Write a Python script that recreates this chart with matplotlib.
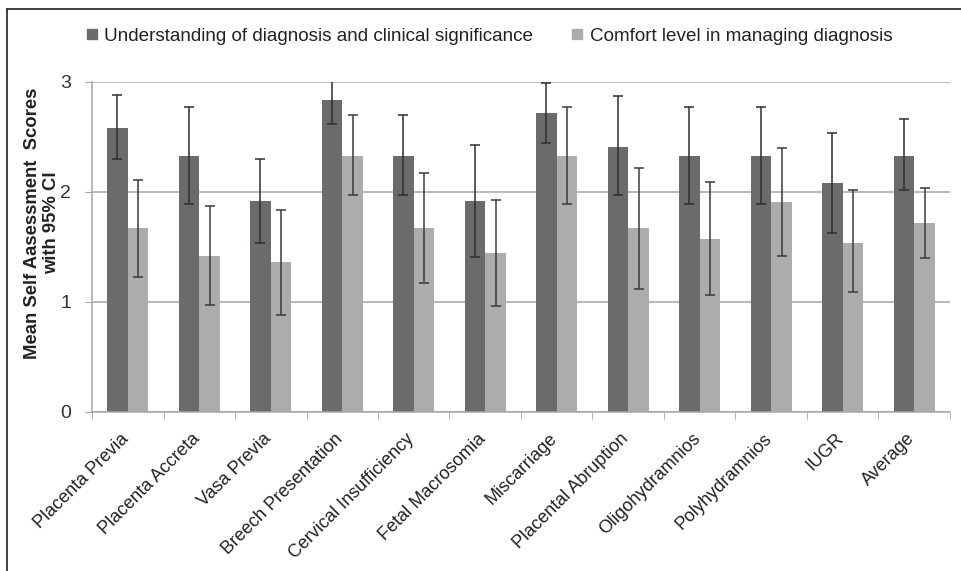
import numpy as np
import matplotlib.pyplot as plt
import matplotlib.transforms as mtransforms
from matplotlib.lines import Line2D

categories = ["Placenta Previa", "Placenta Accreta", "Vasa Previa",
              "Breech Presentation", "Cervical Insufficiency",
              "Fetal Macrosomia", "Miscarriage", "Placental Abruption",
              "Oligohydramnios", "Polyhydramnios", "IUGR", "Average"]

understanding = [2.58, 2.33, 1.92, 2.84, 2.33, 1.92, 2.72, 2.41, 2.33, 2.33, 2.08, 2.33]
under_lo = [2.30, 1.89, 1.54, 2.62, 1.97, 1.41, 2.45, 1.97, 1.89, 1.89, 1.63, 2.02]
under_hi = [2.88, 2.77, 2.30, 3.06, 2.70, 2.43, 2.99, 2.87, 2.77, 2.77, 2.54, 2.66]

comfort = [1.67, 1.42, 1.36, 2.33, 1.67, 1.45, 2.33, 1.67, 1.57, 1.91, 1.54, 1.72]
comf_lo = [1.23, 0.97, 0.88, 1.97, 1.17, 0.96, 1.89, 1.12, 1.06, 1.42, 1.09, 1.40]
comf_hi = [2.11, 1.87, 1.84, 2.70, 2.17, 1.93, 2.77, 2.22, 2.09, 2.40, 2.02, 2.04]

dark = "#6a6b6d"
light = "#abacae"
grid_c = "#a6a6a6"

plt.rcParams['font.family'] = ['Liberation Sans', 'DejaVu Sans']

fig = plt.figure(figsize=(9.62, 5.71), dpi=100)
ax = fig.add_axes([92 / 962, 1 - 412 / 571, 858 / 962, 330 / 571])

x = np.arange(len(categories))
w = 0.29
u = np.array(understanding)
c = np.array(comfort)
u_err = [u - np.array(under_lo), np.array(under_hi) - u]
c_err = [c - np.array(comf_lo), np.array(comf_hi) - c]

ax.bar(x - w / 2, u, w, color=dark, zorder=2)
ax.bar(x + w / 2, c, w, color=light, zorder=2)
ax.errorbar(x - w / 2, u, yerr=u_err, fmt="none", ecolor="#2e2e2e",
            elinewidth=1.1, capsize=3.5, capthick=1.1, zorder=3)
ax.errorbar(x + w / 2, c, yerr=c_err, fmt="none", ecolor="#3a3a3a",
            elinewidth=1.1, capsize=3.5, capthick=1.1, zorder=3)

ax.set_xlim(-0.5, len(categories) - 0.5)
ax.set_ylim(0, 3)
ax.set_yticks([0, 1, 2, 3])
ax.yaxis.grid(True, color=grid_c, linewidth=1.1, zorder=0)
ax.set_axisbelow(True)

for s in ["top", "right"]:
    ax.spines[s].set_visible(False)
for s in ["left", "bottom"]:
    ax.spines[s].set_color(grid_c)
    ax.spines[s].set_linewidth(1.1)

ax.tick_params(axis="y", direction="out", length=5, color=grid_c,
               labelsize=14, labelcolor="#333333", pad=10)
ax.set_xticks(x)
ax.set_xticklabels(categories, rotation=45, ha="right",
                   rotation_mode="anchor", fontsize=13, color="#222222")
ax.tick_params(axis="x", length=0, pad=13)
shift = mtransforms.ScaledTranslation(-8 / 100, 0, fig.dpi_scale_trans)
for lab in ax.get_xticklabels():
    lab.set_transform(lab.get_transform() + shift)
ax.set_xticks(np.arange(len(categories) + 1) - 0.5, minor=True)
ax.tick_params(axis="x", which="minor", direction="out", length=5,
               color=grid_c)

fig.text(42 / 962, 1 - 223 / 571,
         "Mean Self Aasessment  Scores\nwith 95% CI",
         rotation=90, ha="center", va="center", multialignment="center",
         fontsize=13.3, fontweight="bold", color="#222222",
         linespacing=1.15)

handles = [Line2D([], [], marker="s", linestyle="none", color=dark, markersize=6.5),
           Line2D([], [], marker="s", linestyle="none", color=light, markersize=6.5)]
fig.legend(handles, ["Understanding of diagnosis and clinical significance",
                     "Comfort level in managing diagnosis"],
           loc="center", bbox_to_anchor=(0.508, 1 - 36 / 571), ncol=2,
           frameon=False, fontsize=13.6, handlelength=0.7, handletextpad=0.3,
           columnspacing=2.0, labelcolor="#222222")

# frame lines on top and left of the image
fig.add_artist(Line2D([7 / 962, 7 / 962], [0, 1 - 8.5 / 571],
                      color="#333333", linewidth=1.3, transform=fig.transFigure))
fig.add_artist(Line2D([7 / 962, 1], [1 - 8.5 / 571, 1 - 8.5 / 571],
                      color="#333333", linewidth=1.3, transform=fig.transFigure))

plt.savefig("out.png", dpi=100, facecolor="white")
